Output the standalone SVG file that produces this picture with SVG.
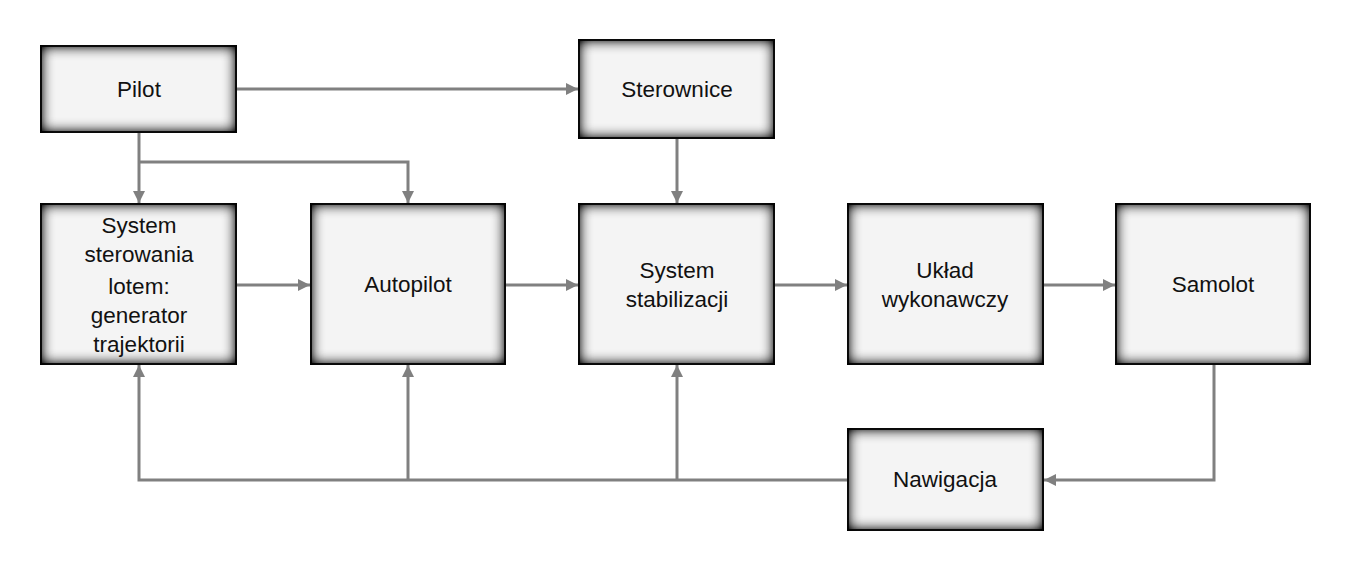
<svg xmlns="http://www.w3.org/2000/svg" width="1353" height="581" viewBox="0 0 1353 581">
<style>
.box{fill:#f4f4f4;stroke:#1a1a1a;stroke-width:2;filter:url(#inner)}
.t{font-family:"Liberation Sans",Arial,sans-serif;font-size:22.5px;fill:#111;text-anchor:middle}
.c{fill:none;stroke:#808080;stroke-width:3}
</style>
<defs>
<filter id="inner" x="-30%" y="-40%" width="160%" height="180%" color-interpolation-filters="sRGB">
<feFlood flood-color="#000" result="k"/>
<feComposite in="k" in2="SourceAlpha" operator="out" result="inv"/>
<feGaussianBlur in="inv" stdDeviation="7" result="blur"/>
<feComposite in="blur" in2="SourceAlpha" operator="in" result="sh"/>
<feColorMatrix in="sh" type="matrix" values="0 0 0 0 0  0 0 0 0 0  0 0 0 0 0  0 0 0 1.4 0" result="sh2"/>
<feMerge><feMergeNode in="SourceGraphic"/><feMergeNode in="sh2"/></feMerge>
</filter>
<marker id="a" viewBox="0 0 10 10" refX="10" refY="5" markerWidth="4" markerHeight="4" orient="auto" markerUnits="strokeWidth">
<path d="M0,0 L10,5 L0,10 z" fill="#808080"/>
</marker>
</defs>
<g id="connectors">
<path class="c" d="M236,89 H578" marker-end="url(#a)"/>
<path class="c" d="M139,132 V203" marker-end="url(#a)"/>
<path class="c" d="M139,162 H408 V203" marker-end="url(#a)"/>
<path class="c" d="M677,138 V203" marker-end="url(#a)"/>
<path class="c" d="M236,285 H310" marker-end="url(#a)"/>
<path class="c" d="M505,285 H578" marker-end="url(#a)"/>
<path class="c" d="M774,285 H847" marker-end="url(#a)"/>
<path class="c" d="M1043,285 H1115" marker-end="url(#a)"/>
<path class="c" d="M1214,364 V480 H1044" marker-end="url(#a)"/>
<path class="c" d="M848,480 H139 V365" marker-end="url(#a)"/>
<path class="c" d="M408,480 V365" marker-end="url(#a)"/>
<path class="c" d="M677,480 V365" marker-end="url(#a)"/>
</g>
<g id="pilot"><rect class="box" x="41" y="46" width="195" height="86"/><text class="t" x="139" y="97">Pilot</text></g>
<g id="sterownice"><rect class="box" x="579" y="40" width="195" height="98"/><text class="t" x="677" y="97">Sterownice</text></g>
<g id="system-sterowania"><rect class="box" x="41" y="204" width="195" height="160"/>
<text class="t" x="139" y="233">System</text><text class="t" x="139" y="262">sterowania</text><text class="t" x="139" y="294">lotem:</text><text class="t" x="139" y="323">generator</text><text class="t" x="139" y="352">trajektorii</text></g>
<g id="autopilot"><rect class="box" x="311" y="204" width="194" height="160"/><text class="t" x="408" y="292">Autopilot</text></g>
<g id="system-stabilizacji"><rect class="box" x="579" y="204" width="195" height="160"/><text class="t" x="677" y="278">System</text><text class="t" x="677" y="307">stabilizacji</text></g>
<g id="uklad"><rect class="box" x="848" y="204" width="195" height="160"/><text class="t" x="945" y="278">Układ</text><text class="t" x="945" y="307">wykonawczy</text></g>
<g id="samolot"><rect class="box" x="1116" y="204" width="194" height="160"/><text class="t" x="1213" y="292">Samolot</text></g>
<g id="nawigacja"><rect class="box" x="848" y="429" width="195" height="101"/><text class="t" x="945" y="487">Nawigacja</text></g>
</svg>
